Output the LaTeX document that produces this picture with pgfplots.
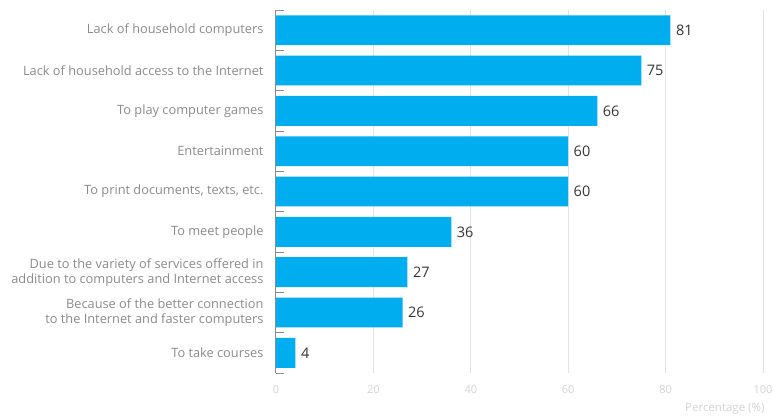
\documentclass[border=0pt]{standalone}
\usepackage{pgfplots}
\pgfplotsset{compat=1.18}
\usepackage{fontspec}
\setmainfont{Open Sans}
\definecolor{barc}{HTML}{00AEEF}
\definecolor{axc}{HTML}{8C8C8C}
\definecolor{gridc}{HTML}{E3E3E3}
\definecolor{tickc}{HTML}{D2D2D2}
\definecolor{catc}{HTML}{8A8A8A}
\definecolor{valc}{HTML}{333333}
\begin{document}
\begin{tikzpicture}
\begin{axis}[
  at={(0,0)}, anchor=south west,
  scale only axis,
  width=487pt, height=363pt,
  xbar, bar width=0.74,
  xmin=0, xmax=100,
  ymin=-0.5, ymax=8.5,
  y dir=reverse,
  axis x line*=bottom,
  axis y line*=left,
  x axis line style={draw=none},
  y axis line style={axc, line width=1pt},
  xtick={0,20,40,60,80,100},
  xmajorgrids, grid style={gridc, line width=1pt},
  major x tick style={draw=none},
  /pgf/number format/assume math mode=true,
  xticklabel style={text=tickc, font=\fontsize{11}{12}\selectfont, yshift=-9pt},
  xlabel={Percentage (\%)},
  xlabel style={text=tickc, font=\fontsize{11.5}{13}\selectfont, at={(axis description cs:1,0)}, anchor=north east, yshift=-27pt, xshift=5pt},
  ytick={0,...,8},
  yticklabels={Lack of household computers, Lack of household access to the Internet, To play computer games, Entertainment, {To print documents, texts, etc.}, To meet people, {Due to the variety of services offered in\\addition to computers and Internet access}, {Because of the better connection\\to the Internet and faster computers}, To take courses},
  yticklabel style={text=catc, align=right, font=\fontsize{12.8}{15}\selectfont, xshift=-9pt},
  major y tick style={draw=none},
  minor ytick={-0.5,0.5,...,8.5},
  minor y tick style={axc, line width=1pt},
  minor tick length=8pt,
  tick align=inside,
  nodes near coords,
  nodes near coords style={text=valc, font=\fontsize{14.5}{16}\selectfont, anchor=west, xshift=2pt},
]
\addplot[fill=barc, draw=none] coordinates {(81,0) (75,1) (66,2) (60,3) (60,4) (36,5) (27,6) (26,7) (4,8)};
\end{axis}
\pgfresetboundingbox
\useasboundingbox (-276pt,-44pt) rectangle (497pt,373pt);
\end{tikzpicture}
\end{document}
